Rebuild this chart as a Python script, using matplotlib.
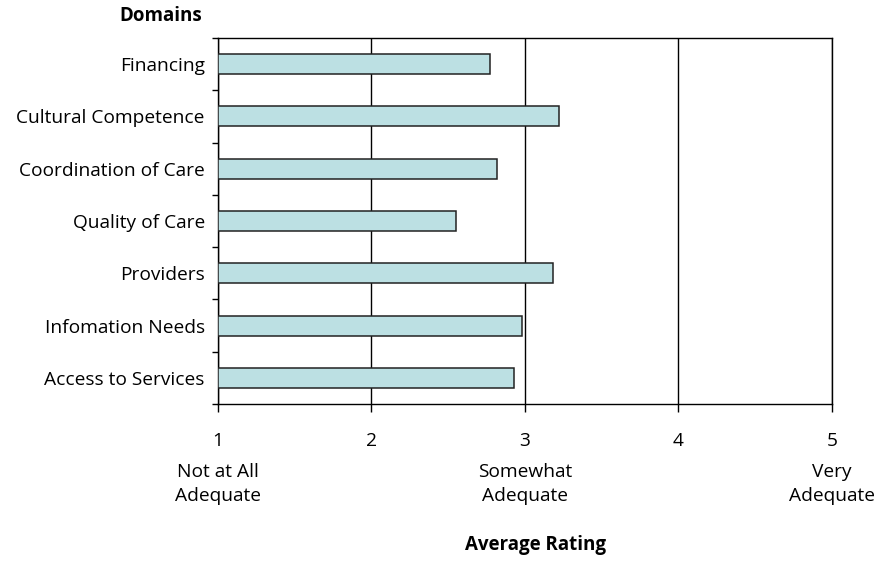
import matplotlib
matplotlib.use("Agg")
import matplotlib.pyplot as plt
import numpy as np

plt.rcParams['font.family'] = ['Open Sans', 'DejaVu Sans']

domains = ["Financing", "Cultural Competence", "Coordination of Care",
           "Quality of Care", "Providers", "Infomation Needs", "Access to Services"]
ratings = [2.77, 3.22, 2.82, 2.55, 3.18, 2.98, 2.93]
x_ticks = [1, 2, 3, 4, 5]
x_desc = {1: "Not at All\nAdequate", 3: "Somewhat\nAdequate", 5: "Very\nAdequate"}

FS = 13.8
fig = plt.figure(figsize=(8.78, 5.61), dpi=100)
ax = fig.add_axes([218/878, 1-404/561, (832-218)/878, (404-38)/561])

n = len(domains)
ypos = np.arange(n)[::-1]
ax.barh(ypos, np.array(ratings) - 1, left=1, height=0.38,
        color='#BCE0E3', edgecolor='#222222', linewidth=1.1, zorder=3)

ax.set_xlim(1, 5)
ax.set_ylim(-0.5, n - 0.5)
ax.set_xticks(x_ticks)
ax.set_xticklabels([str(t) for t in x_ticks])
ax.xaxis.grid(True, color='black', linewidth=1.0, zorder=0)
ax.set_axisbelow(True)

ax.set_yticks(ypos)
ax.set_yticklabels(domains)
ax.set_yticks(np.arange(-0.5, n), minor=True)
ax.tick_params(axis='y', which='major', length=0, pad=9.5, labelsize=FS)
ax.tick_params(axis='y', which='minor', length=4.3, width=1, direction='out')
ax.tick_params(axis='x', which='major', length=5.5, width=1, direction='out', pad=14.3, labelsize=FS)

for s in ax.spines.values():
    s.set_linewidth(1.0)
    s.set_color('black')

for xv, txt in x_desc.items():
    ax.text(xv, (404-484)/366, txt, transform=ax.get_xaxis_transform(), ha='center', va='center',
            fontsize=FS, linespacing=1.37)

fig.text(161/878, 1-16/561, "Domains", ha='center', va='center', fontsize=13.5, fontweight='bold')
fig.text(536/878, 1-545/561, "Average Rating", ha='center', va='center', fontsize=13.5, fontweight='bold')

fig.savefig("out.png", dpi=100)
